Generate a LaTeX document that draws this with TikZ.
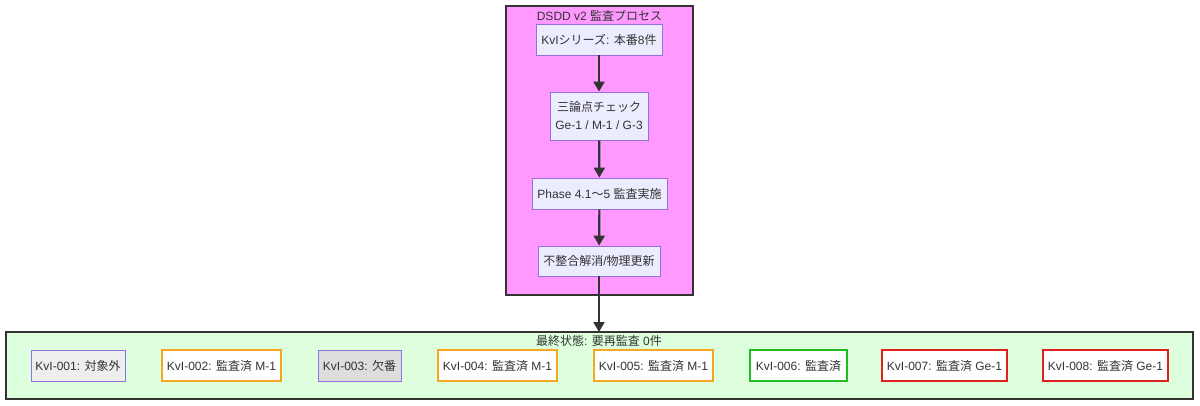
\documentclass[tikz,border=0pt]{standalone}
\usepackage{fontspec}
\setmainfont{Liberation Sans}
\newfontfamily\cjk{Noto Sans CJK JP}
\newcommand{\J}[1]{{\cjk #1}}
\usetikzlibrary{arrows.meta}
\definecolor{procfill}{HTML}{FF99FF}
\definecolor{endfill}{HTML}{DDFFDD}
\definecolor{nfill}{HTML}{ECECFF}
\definecolor{nborder}{HTML}{9370DB}
\definecolor{dark}{HTML}{333333}
\definecolor{greyA}{HTML}{EEEEEE}
\definecolor{greyB}{HTML}{DDDDDD}
\definecolor{orangeB}{HTML}{F5A623}
\definecolor{greenB}{HTML}{22BB22}
\definecolor{redB}{HTML}{E02020}
\tikzset{
  every node/.style={font=\fontsize{12}{14}\selectfont, text=dark},
  cluster/.style={draw=dark, line width=1.3pt},
  box/.style={draw=nborder, fill=nfill, line width=0.8pt, inner sep=0pt, align=center, minimum height=31pt},
  okbox/.style={box, fill=white, line width=1.3pt},
  flow/.style={draw=dark, line width=2.2pt, -{Triangle[length=10pt,width=11pt]}}
}
\begin{document}
\begin{tikzpicture}[x=1pt,y=-1pt]
\useasboundingbox (0,0) rectangle (1200,405);
% clusters
\draw[cluster, fill=procfill] (506,6) rectangle (693,295);
\coordinate (ptop) at (599.5,6);
\node (ptitle) at (599.5,16) {DSDD v2 \J{監査プロセス}};
\draw[cluster, fill=endfill] (6,332) rectangle (1193,399);
\coordinate (etop) at (599,332);
\node (etitle) at (599,341) {\J{最終状態}: \J{要再監査} 0\J{件}};
% process nodes
\node[box, minimum width=126pt] (n1) at (599,39.5) {KvI\J{シリーズ}: \J{本番}8\J{件}};
\node[box, minimum width=98pt, minimum height=48pt, align=center] (n2) at (599,116) {\J{三論点チェック}\\[4pt]Ge-1 / M-1 / G-3};
\node[box, minimum width=135pt] (n3) at (599.5,193.5) {Phase 4.1\J{〜}5 \J{監査実施}};
\node[box, minimum width=122pt, minimum height=30pt] (n4) at (599,261) {\J{不整合解消}/\J{物理更新}};
\draw[flow] (n1) -- (n2);
\draw[flow] (n2) -- (n3);
\draw[flow] (n3) -- (n4);
\draw[flow] (n4.south) -- (etop);
% final state nodes
\node[box, fill=greyA, minimum width=94pt] (k1) at (78,365.5) {KvI-001: \J{対象外}};
\node[okbox, draw=orangeB, minimum width=119pt] (k2) at (221.5,365.5) {KvI-002: \J{監査済} M-1};
\node[box, fill=greyB, minimum width=83pt] (k3) at (359.5,365.5) {KvI-003: \J{欠番}};
\node[okbox, draw=orangeB, minimum width=119pt] (k4) at (497.5,365.5) {KvI-004: \J{監査済} M-1};
\node[okbox, draw=orangeB, minimum width=119pt] (k5) at (653.5,365.5) {KvI-005: \J{監査済} M-1};
\node[okbox, draw=greenB, minimum width=97pt] (k6) at (798.5,365.5) {KvI-006: \J{監査済}};
\node[okbox, draw=redB, minimum width=125pt] (k7) at (944.5,365.5) {KvI-007: \J{監査済} Ge-1};
\node[okbox, draw=redB, minimum width=125pt] (k8) at (1105.5,365.5) {KvI-008: \J{監査済} Ge-1};
\end{tikzpicture}
\end{document}
